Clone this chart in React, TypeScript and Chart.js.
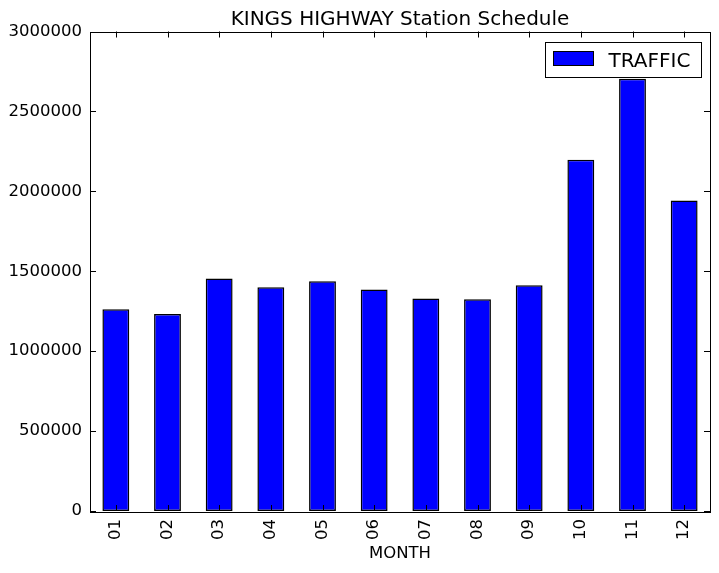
import React, { useEffect, useRef } from "react";
import { Chart, registerables } from "chart.js";

Chart.register(...registerables);

const months: string[] = ["01", "02", "03", "04", "05", "06", "07", "08", "09", "10", "11", "12"];
const traffic: number[] = [1262500, 1233000, 1454000, 1400000, 1437500, 1386000, 1329000, 1325000, 1412500, 2198000, 2704000, 1942000];
const seriesLabel = "TRAFFIC";
const chartTitle = "KINGS HIGHWAY Station Schedule";
const xAxisTitle = "MONTH";
const yMin = 0;
const yMax = 3000000;
const yStep = 500000;

const FONT = "'DejaVu Sans', sans-serif";
const TICK_LEN = 6;

const frameTicksPlugin = {
  id: "frameTicks",
  afterDatasetsDraw(chart: any) {
    const { ctx, chartArea } = chart;
    const { left, right, top, bottom } = chartArea;
    const xs = chart.scales.x;
    const ys = chart.scales.y;
    ctx.save();
    ctx.strokeStyle = "#000";
    ctx.lineWidth = 1;
    ctx.beginPath();
    xs.ticks.forEach((_t: any, i: number) => {
      const px = Math.round(xs.getPixelForTick(i)) + 0.5;
      ctx.moveTo(px, bottom);
      ctx.lineTo(px, bottom - TICK_LEN);
      ctx.moveTo(px, top);
      ctx.lineTo(px, top + TICK_LEN);
    });
    ys.ticks.forEach((t: any) => {
      const py = Math.round(ys.getPixelForValue(t.value)) + 0.5;
      ctx.moveTo(left, py);
      ctx.lineTo(left + TICK_LEN, py);
      ctx.moveTo(right, py);
      ctx.lineTo(right - TICK_LEN, py);
    });
    ctx.stroke();
    ctx.strokeRect(Math.round(left) + 0.5, Math.round(top) + 0.5, Math.round(right - left), Math.round(bottom - top));
    ctx.restore();
  },
  afterDraw(chart: any) {
    const { ctx, chartArea } = chart;
    const ds = chart.data.datasets[0];
    const boxW = 156;
    const boxH = 35;
    const bx = Math.round(chartArea.right - 9 - boxW) + 0.5;
    const by = Math.round(chartArea.top + 10) + 0.5;
    ctx.save();
    ctx.fillStyle = "#fff";
    ctx.fillRect(bx, by, boxW, boxH);
    ctx.strokeStyle = "#000";
    ctx.lineWidth = 1;
    ctx.strokeRect(bx, by, boxW, boxH);
    ctx.fillStyle = ds.backgroundColor;
    ctx.fillRect(bx + 8, by + 9, 40, 14);
    ctx.strokeRect(bx + 8, by + 9, 40, 14);
    ctx.fillStyle = "#000";
    ctx.font = `20px ${FONT}`;
    ctx.textBaseline = "alphabetic";
    ctx.textAlign = "left";
    ctx.fillText(ds.label, bx + 63, by + 24);
    ctx.restore();
  },
};

export default function App() {
  const canvasRef = useRef<HTMLCanvasElement | null>(null);

  useEffect(() => {
    document.body.style.margin = "0";
    const canvas = canvasRef.current;
    if (!canvas) return;
    Chart.defaults.font.family = FONT;
    Chart.defaults.color = "#000";
    const chart = new Chart(canvas, {
      type: "bar",
      data: {
        labels: months,
        datasets: [
          {
            label: seriesLabel,
            data: traffic,
            backgroundColor: "#0000ff",
            borderColor: "#000000",
            borderWidth: 1.5,
            borderSkipped: false,
            inflateAmount: 0,
            barPercentage: 0.52,
            categoryPercentage: 1.0,
          },
        ],
      },
      options: {
        animation: false,
        responsive: false,
        maintainAspectRatio: false,
        layout: { padding: { left: 0, right: 9, top: 0, bottom: 0 } },
        plugins: {
          legend: { display: false },
          tooltip: { enabled: false },
          title: {
            display: true,
            fullSize: false,
            text: chartTitle,
            color: "#000",
            font: { size: 20, weight: "normal", family: FONT, lineHeight: 1.15 },
            padding: { top: 8, bottom: 0.5 },
          },
        },
        scales: {
          x: {
            grid: { display: false, drawTicks: false },
            border: { display: false },
            ticks: {
              maxRotation: 90,
              minRotation: 90,
              padding: 8,
              color: "#000",
              font: { size: 16.5, family: FONT },
            },
            title: {
              display: true,
              text: xAxisTitle,
              color: "#000",
              font: { size: 16.5, family: FONT, lineHeight: 1.2 },
              padding: { top: 0, bottom: 9 },
            },
            afterFit(scale: any) {
              scale.height = 62;
            },
          },
          y: {
            min: yMin,
            max: yMax,
            grid: { display: false, drawTicks: false },
            border: { display: false },
            ticks: {
              stepSize: yStep,
              padding: 8,
              color: "#000",
              font: { size: 16.5, family: FONT },
              callback: (v: any) => String(v),
            },
            afterFit(scale: any) {
              scale.width = 90;
            },
          },
        },
      },
      plugins: [frameTicksPlugin],
    });
    return () => chart.destroy();
  }, []);

  return (
    <div style={{ position: "absolute", left: 0, top: 0, width: 719, height: 573 }}>
      <canvas ref={canvasRef} width={719} height={573} />
    </div>
  );
}
